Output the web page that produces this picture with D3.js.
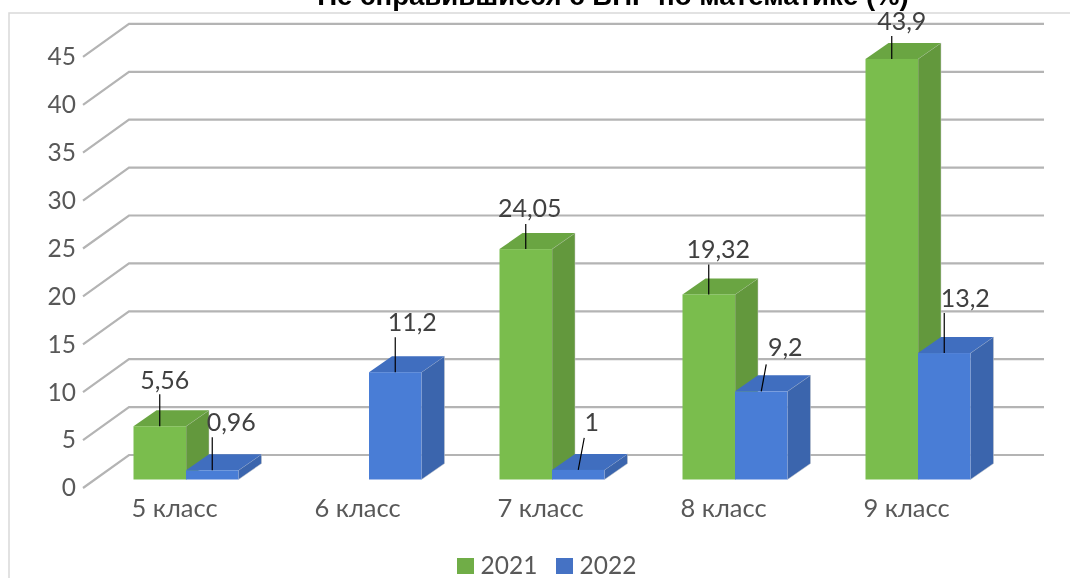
<!DOCTYPE html>
<html>
<head>
<meta charset="utf-8">
<script src="https://cdnjs.cloudflare.com/ajax/libs/d3/7.8.5/d3.min.js"></script>
<style>
  html, body { margin: 0; padding: 0; background: #fff; overflow: hidden; }
  svg text { font-family: Lato, "Open Sans", sans-serif; }
</style>
</head>
<body>
<svg width="1070" height="578"></svg>
<script>
var categories = ["5 класс", "6 класс", "7 класс", "8 класс", "9 класс"];
var seriesNames = ["2021", "2022"];
var values2021 = [5.56, null, 24.05, 19.32, 43.9];
var values2022 = [0.96, 11.2, 1, 9.2, 13.2];
var yTicks = [0, 5, 10, 15, 20, 25, 30, 35, 40, 45];

// label placement, one [dx, dy] per bar: label centre relative to top of bar
var labelOffset2021 = [[5, -46], null, [4, -41], [9.5, -45], [10, -38]];
var labelOffset2022 = [[19, -48], [17, -50], [13.5, -48], [24, -44], [21, -55]];
var leaderTop2021 = [[0, -32], null, [0, -25], [0, -30], [0, -23]];
var leaderTop2022 = [[0, -33], [0, -35], [6, -32], [5, -27], [0, -40]];

var root = d3.select("svg");

// the reference is slightly soft, as if scaled up
root.append("defs").append("filter")
  .attr("id", "soft")
  .attr("filterUnits", "userSpaceOnUse")
  .attr("x", 0).attr("y", 0).attr("width", 1070).attr("height", 578)
  .append("feGaussianBlur")
  .attr("stdDeviation", 0.55);

var svg = root.append("g").attr("filter", "url(#soft)");

var colors = {
  "2021": { front: "#7abd4e", top: "#6aa543", side: "#64983e" },
  "2022": { front: "#4a7dd6", top: "#3f6ebf", side: "#3b65ad" }
};

var depthDx = 23, depthDy = 16;   // depth of a bar
var wallDx = 46, wallDy = 33;     // depth of the floor, left end of gridline to wall
var floorFront = 479.5, plotTop = 48.4;
var barWidth = 52.5;

var x = d3.scaleBand().domain(categories).range([94.5, 1009.5]);
var y = d3.scaleLinear().domain([0, 45]).range([floorFront, plotTop]);
var wallLeft = 129, wallRight = 1044;

// chart frame
svg.append("path")
  .attr("d", "M9,578V13H1070")
  .attr("fill", "none")
  .attr("stroke", "#d9d9d9")
  .attr("stroke-width", 1.5);

svg.append("text")
  .attr("x", 613)
  .attr("y", 5)
  .attr("text-anchor", "middle")
  .style("font-family", "'Liberation Sans', Arial, sans-serif")
  .attr("font-size", 27.6)
  .attr("font-weight", 700)
  .attr("fill", "#000")
  .text("Не справившиеся с ВПР по математике (%)");

// gridlines on floor and back wall
var grid = svg.append("g");
grid.selectAll("path")
  .data(yTicks)
  .enter()
  .append("path")
  .attr("d", function (d) {
    var yb = y(d) - depthDy - 8.5;
    return "M" + (wallLeft - wallDx) + "," + (yb + wallDy) + "L" + wallLeft + "," + yb + "H" + wallRight;
  })
  .attr("fill", "none")
  .attr("stroke", "#b4b4b4")
  .attr("stroke-width", 2.2);

// value axis, drawn at the left ends of the gridlines
var yAxis = d3.axisLeft(y.copy().range([floorFront + 8.5, plotTop + 8.5]))
  .tickValues(yTicks)
  .tickSize(0)
  .tickPadding(0);
var yG = svg.append("g").attr("transform", "translate(76,0)").call(yAxis);
yG.select(".domain").remove();
yG.selectAll("text")
  .attr("font-size", 24.5)
  .attr("font-family", "Lato")
  .attr("fill", "#595959");

// category axis
var xAxis = d3.axisBottom(x).tickSize(0).tickPadding(0);
var xG = svg.append("g").attr("transform", "translate(-11.5,499)").call(xAxis);
xG.select(".domain").remove();
xG.selectAll("text")
  .attr("font-size", 25.5)
  .attr("font-family", "Lato")
  .attr("fill", "#595959");

function makeRows(name, values, seriesIndex) {
  var rows = [];
  values.forEach(function (v, i) {
    if (v !== null) rows.push({ v: v, cat: categories[i], i: i, s: seriesIndex, c: colors[name] });
  });
  return rows;
}

var bars = makeRows("2021", values2021, 0).concat(makeRows("2022", values2022, 1));
bars.sort(function (a, b) { return (a.i * 2 + a.s) - (b.i * 2 + b.s); });

function barLeft(d) {
  return x(d.cat) + x.bandwidth() / 2 + (d.s === 0 ? -barWidth : 0);
}

var barG = svg.append("g")
  .selectAll("g")
  .data(bars)
  .enter()
  .append("g");

barG.append("polygon")
  .attr("fill", function (d) { return d.c.side; })
  .attr("stroke", "#c8c8c8")
  .attr("stroke-width", 0.5)
  .attr("points", function (d) {
    var r = barLeft(d) + barWidth, t = y(d.v), b = y(0);
    return [[r, t], [r + depthDx, t - depthDy], [r + depthDx, b - depthDy], [r, b]].join(" ");
  });

barG.append("polygon")
  .attr("fill", function (d) { return d.c.top; })
  .attr("points", function (d) {
    var l = barLeft(d), t = y(d.v);
    return [[l, t], [l + depthDx, t - depthDy], [l + barWidth + depthDx, t - depthDy], [l + barWidth, t]].join(" ");
  });

barG.append("rect")
  .attr("x", barLeft)
  .attr("y", function (d) { return y(d.v); })
  .attr("width", barWidth)
  .attr("height", function (d) { return y(0) - y(d.v); })
  .attr("fill", function (d) { return d.c.front; });

// leader lines and value labels
var labelG = svg.append("g")
  .selectAll("g")
  .data(bars)
  .enter()
  .append("g");

function leader(d) {
  return (d.s === 0 ? leaderTop2021 : leaderTop2022)[d.i];
}
function labelPos(d) {
  return (d.s === 0 ? labelOffset2021 : labelOffset2022)[d.i];
}

labelG.append("line")
  .attr("x1", function (d) { return barLeft(d) + barWidth / 2; })
  .attr("y1", function (d) { return y(d.v); })
  .attr("x2", function (d) { return barLeft(d) + barWidth / 2 + leader(d)[0]; })
  .attr("y2", function (d) { return y(d.v) + leader(d)[1]; })
  .attr("stroke", "#000")
  .attr("stroke-width", 1.2);

labelG.append("text")
  .attr("x", function (d) { return barLeft(d) + barWidth / 2 + labelPos(d)[0]; })
  .attr("y", function (d) { return y(d.v) + labelPos(d)[1]; })
  .attr("dy", "0.35em")
  .attr("text-anchor", "middle")
  .attr("font-size", 25)
  .attr("fill", "#404040")
  .text(function (d) { return String(d.v).replace(".", ","); });

// legend
var legendX = d3.scalePoint().domain(seriesNames).range([457, 556]);
var legend = svg.append("g")
  .selectAll("g")
  .data(seriesNames)
  .enter()
  .append("g")
  .attr("transform", function (d) { return "translate(" + legendX(d) + ",558)"; });

legend.append("rect")
  .attr("width", 17)
  .attr("height", 16)
  .attr("fill", function (d) { return d === "2021" ? "#70ad47" : "#4472c4"; });

legend.append("text")
  .attr("x", 23.5)
  .attr("y", 7)
  .attr("dy", "0.35em")
  .attr("font-size", 24.5)
  .attr("fill", "#595959")
  .text(function (d) { return d; });
</script>
</body>
</html>
